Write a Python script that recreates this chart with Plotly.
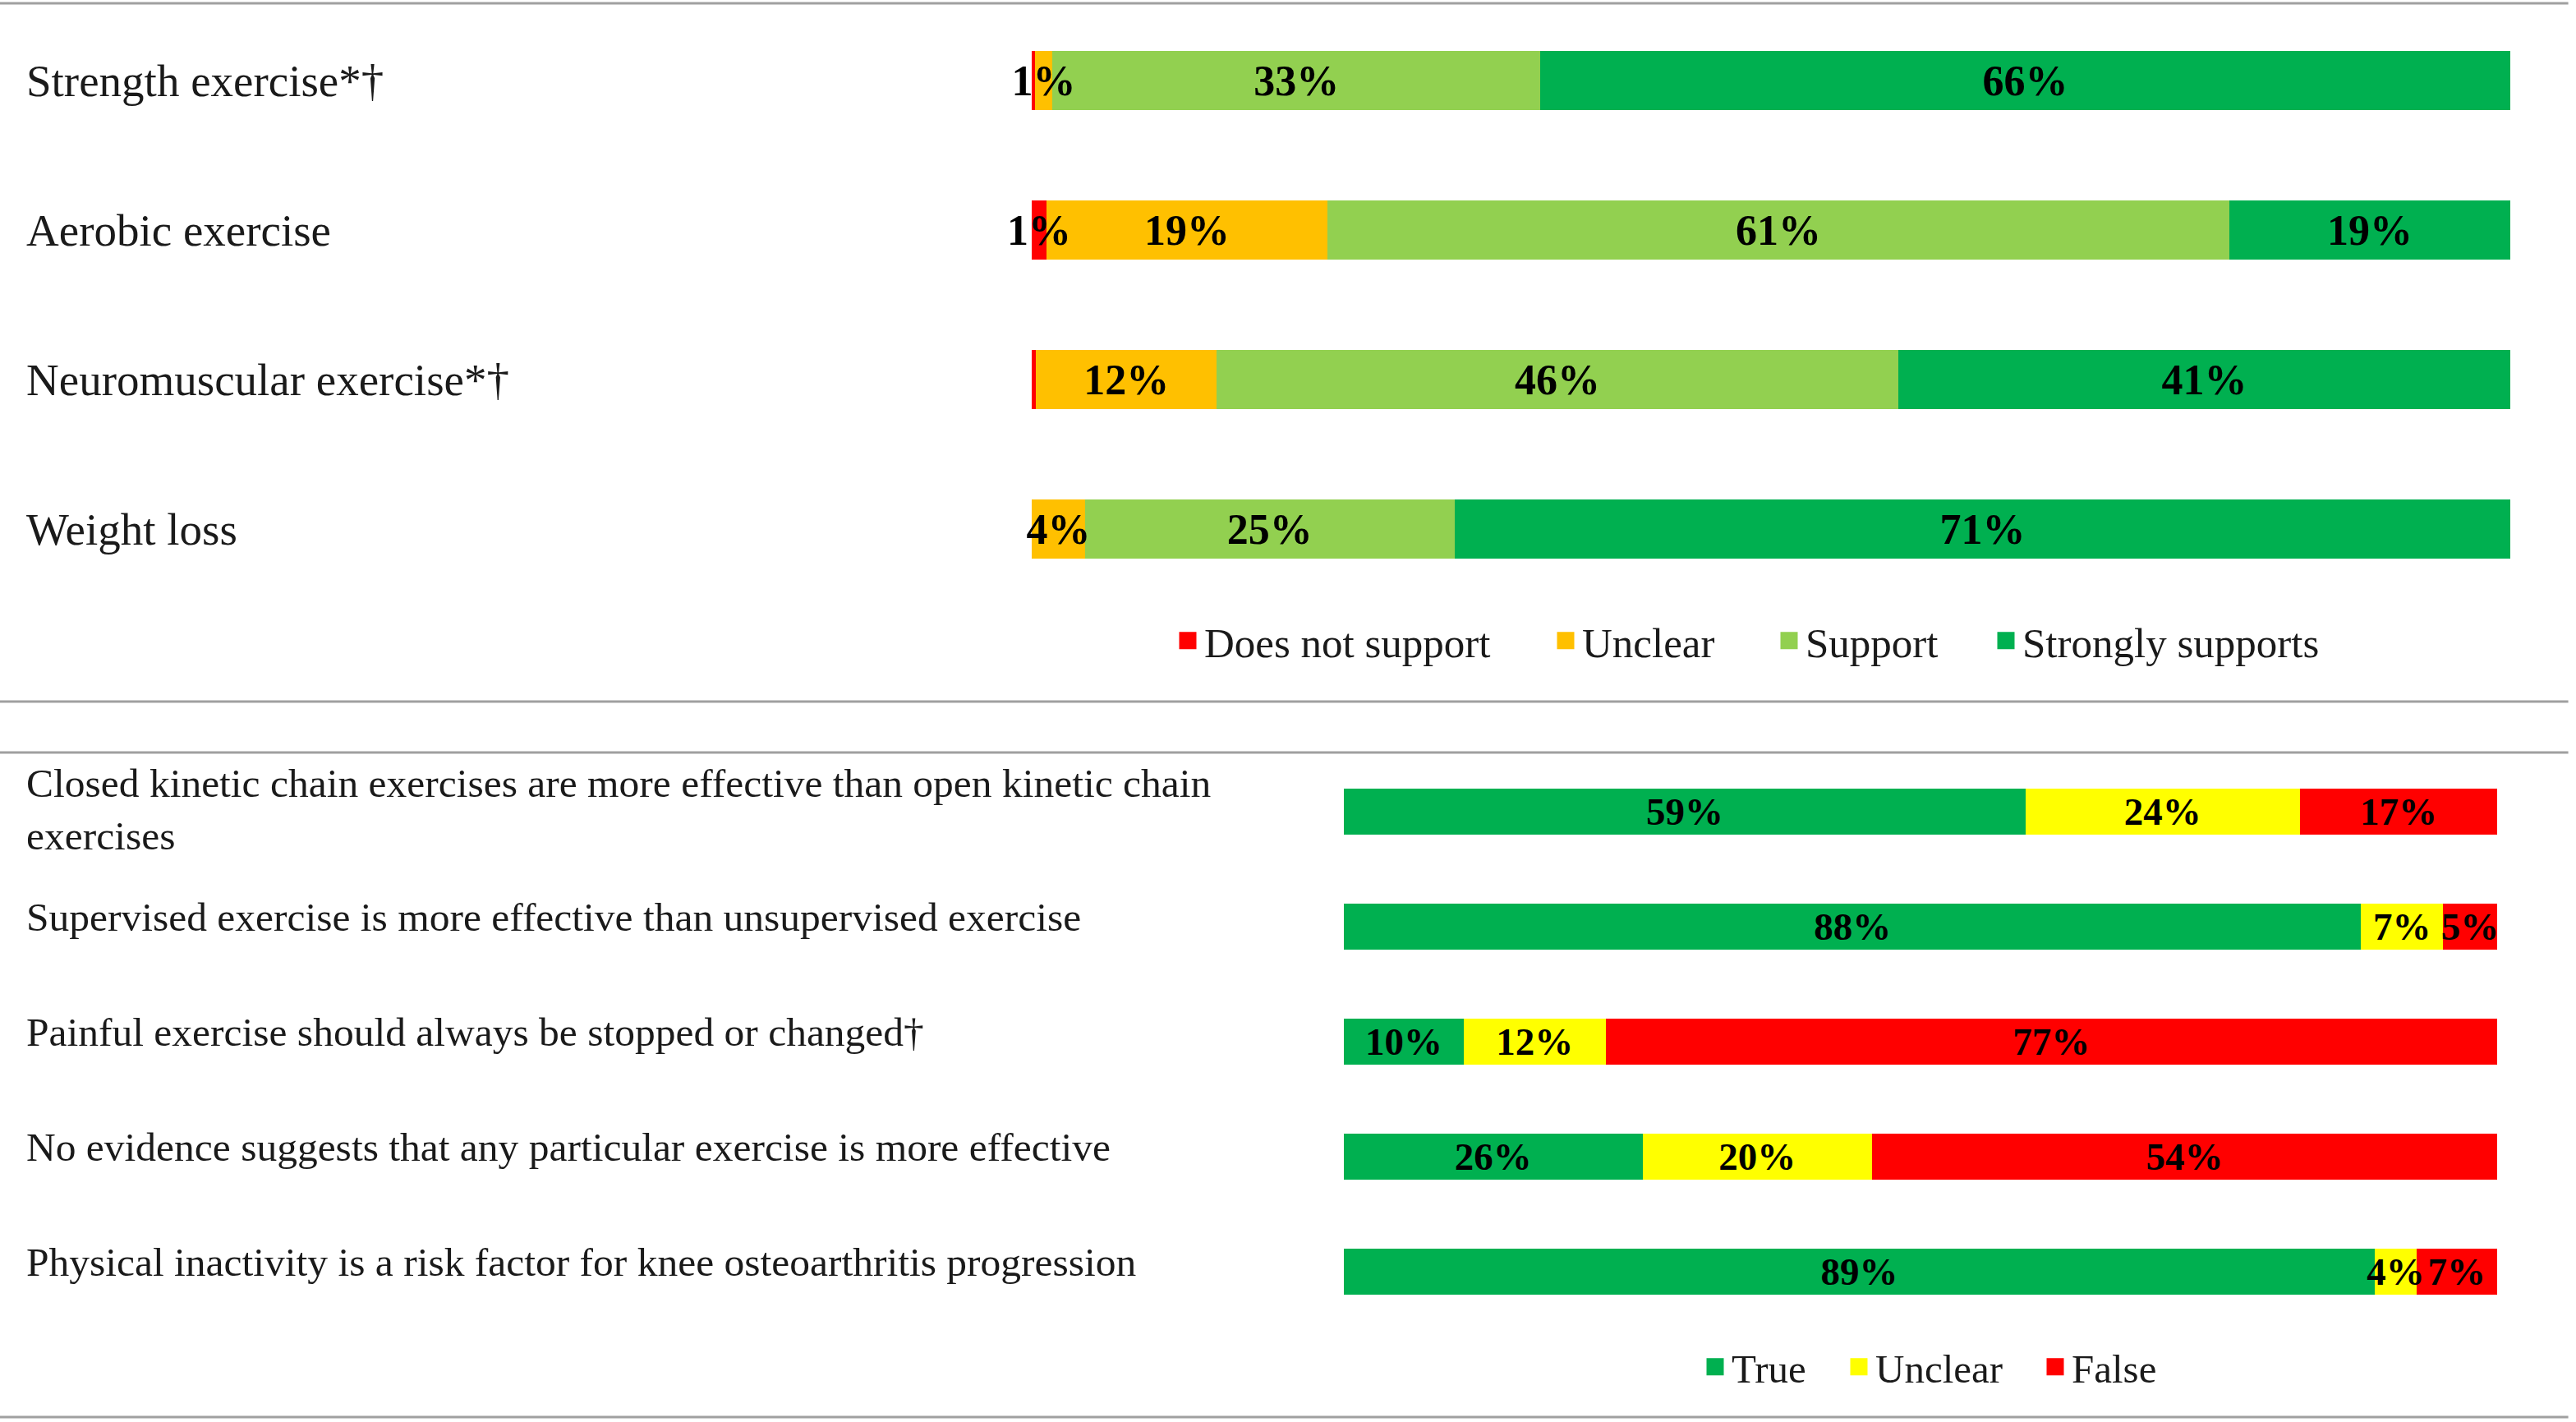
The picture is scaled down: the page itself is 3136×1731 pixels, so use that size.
import plotly.graph_objects as go

# ---------------- Data ----------------
top_items = ["Strength exercise*†", "Aerobic exercise", "Neuromuscular exercise*†", "Weight loss"]
top_categories = ["Does not support", "Unclear", "Support", "Strongly supports"]
does_not_support = [0.2, 1.0, 0.3, 0.0]
unclear_top = [1.2, 19.0, 12.2, 3.6]
support = [33.0, 61.0, 46.1, 25.0]
strongly_supports = [65.6, 19.0, 41.4, 71.4]

bottom_items = [
    "Closed kinetic chain exercises are more effective than open kinetic chain<br>exercises",
    "Supervised exercise is more effective than unsupervised exercise",
    "Painful exercise should always be stopped or changed†",
    "No evidence suggests that any particular exercise is more effective",
    "Physical inactivity is a risk factor for knee osteoarthritis progression",
]
bottom_categories = ["True", "Unclear", "False"]
true_vals = [59.1, 88.2, 10.4, 25.9, 89.4]
unclear_bottom = [23.8, 7.1, 12.3, 19.9, 3.6]
false_vals = [17.1, 4.7, 77.3, 54.2, 7.0]

# ---------------- Styles ----------------
W, H = 3136, 1731
SERIF = "Liberation Serif"
top_colors = ["#FF0000", "#FFC000", "#92D050", "#00B050"]
bottom_colors = ["#00B050", "#FFFF00", "#FF0000"]


def px_x(p):
    return p / W


def px_y(p):
    return 1 - p / H


def labels(vals):
    return [f"{round(v)}%" if v >= 0.5 else "" for v in vals]


fig = go.Figure()


def add_stack(items, series, names, colors, xa, xa_text, ya, fsize):
    # coloured segments
    for name, vals, col in zip(names, series, colors):
        fig.add_trace(go.Bar(
            y=items, x=vals, orientation="h", name=name, showlegend=False,
            marker=dict(color=col, line=dict(width=0)),
            xaxis=xa, yaxis=ya, hoverinfo="skip",
        ))
    # same stack, transparent, on an overlaying axis so the value labels sit above every bar
    for name, vals in zip(names, series):
        fig.add_trace(go.Bar(
            y=items, x=vals, orientation="h", name=name, showlegend=False,
            marker=dict(color="rgba(0,0,0,0)", line=dict(width=0)),
            text=labels(vals), textposition="inside", insidetextanchor="middle",
            textangle=0, constraintext="none", cliponaxis=False,
            textfont=dict(family=SERIF, size=fsize, color="#000000", weight="bold"),
            xaxis=xa_text, yaxis=ya, hoverinfo="skip",
        ))


add_stack(top_items, [does_not_support, unclear_top, support, strongly_supports],
          top_categories, top_colors, "x", "x3", "y", 52)
add_stack(bottom_items, [true_vals, unclear_bottom, false_vals],
          bottom_categories, bottom_colors, "x2", "x4", "y2", 47)

# Legend entries (one legend per item to reproduce spacing)
top_legend_centers = [1446, 1906, 2178, 2442]
bottom_legend_centers = [2088, 2263, 2502]
legend_layouts = {}
k = 1
for name, col, cx in zip(top_categories, top_colors, top_legend_centers):
    key = "legend" if k == 1 else f"legend{k}"
    fig.add_trace(go.Scatter(
        x=[None], y=[None], mode="markers", name=name, legend=key,
        marker=dict(symbol="square", size=24, color=col, line=dict(color=col, width=5)),
        xaxis="x", yaxis="y", showlegend=True,
    ))
    legend_layouts[key] = dict(x=px_x(cx - 20), y=px_y(780), xanchor="left", yanchor="middle",
                               bgcolor="rgba(0,0,0,0)", borderwidth=0,
                               font=dict(family=SERIF, size=51, color="#1a1a1a"))
    k += 1
for name, col, cx in zip(bottom_categories, bottom_colors, bottom_legend_centers):
    key = f"legend{k}"
    fig.add_trace(go.Scatter(
        x=[None], y=[None], mode="markers", name=name, legend=key,
        marker=dict(symbol="square", size=24, color=col, line=dict(color=col, width=5)),
        xaxis="x2", yaxis="y2", showlegend=True,
    ))
    legend_layouts[key] = dict(x=px_x(cx - 20), y=px_y(1664), xanchor="left", yanchor="middle",
                               bgcolor="rgba(0,0,0,0)", borderwidth=0,
                               font=dict(family=SERIF, size=49, color="#1a1a1a"))
    k += 1

# Row labels
annotations = []
for item in top_items:
    annotations.append(dict(
        x=px_x(30), xref="paper", y=item, yref="y", xanchor="left", yanchor="middle",
        text=item, showarrow=False, align="left",
        font=dict(family=SERIF, size=55, color="#1a1a1a"),
    ))
for item in bottom_items:
    annotations.append(dict(
        x=px_x(30), xref="paper", y=item, yref="y2", xanchor="left", yanchor="middle",
        text=item, showarrow=False, align="left",
        yshift=2 if "<br>" in item else 12,
        font=dict(family=SERIF, size=49.5, color="#1a1a1a"),
    ))

# Divider lines
shapes = []
for yp in [4, 854, 916, 1725]:
    shapes.append(dict(type="line", xref="paper", yref="paper", x0=0, x1=0.997,
                       y0=px_y(yp), y1=px_y(yp), line=dict(color="#a0a0a0", width=3)))

top_xdom = [px_x(1256), px_x(3056)]
bot_xdom = [px_x(1636), px_x(3040)]
fig.update_layout(
    width=W, height=H,
    margin=dict(l=0, r=0, t=0, b=0),
    paper_bgcolor="white", plot_bgcolor="white",
    barmode="stack", bargap=0.6,
    xaxis=dict(domain=top_xdom, range=[0, 100], visible=False, anchor="y"),
    xaxis3=dict(domain=top_xdom, range=[0, 100], visible=False, anchor="y", overlaying="x"),
    yaxis=dict(domain=[px_y(735), px_y(7)], type="category", categoryorder="array",
               categoryarray=top_items, range=[len(top_items) - 0.5, -0.5], visible=False),
    xaxis2=dict(domain=bot_xdom, range=[0, 100], visible=False, anchor="y2"),
    xaxis4=dict(domain=bot_xdom, range=[0, 100], visible=False, anchor="y2", overlaying="x2"),
    yaxis2=dict(domain=[px_y(1618), px_y(918)], type="category", categoryorder="array",
                categoryarray=bottom_items, range=[len(bottom_items) - 0.5, -0.5],
                visible=False, anchor="x2"),
    annotations=annotations,
    shapes=shapes,
    **legend_layouts,
)

fig.write_html("out.html", config={"displayModeBar": False},
               post_script="document.body.style.margin='0';")
